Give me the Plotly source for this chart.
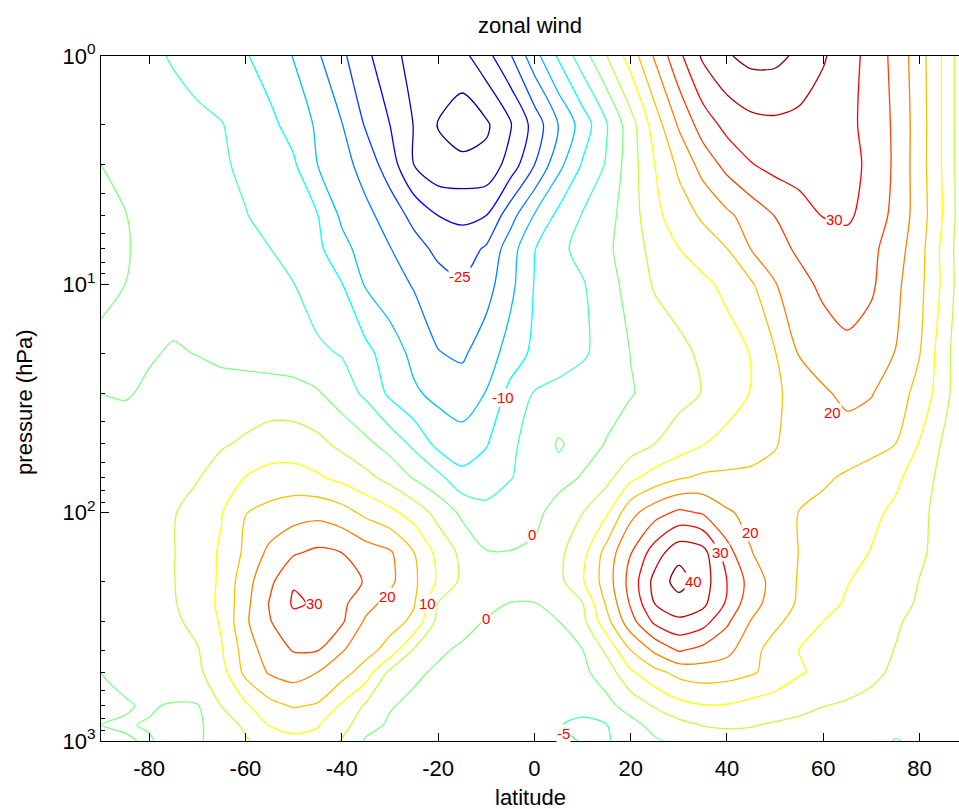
import numpy as np
import plotly.graph_objects as go

# latitude grid (deg) and pressure levels (hPa)
lats = [-90, -85, -80, -75, -70, -65, -60, -55, -50, -45, -40, -35, -30, -25, -20, -15, -10, -5, 0,
        5, 10, 15, 20, 25, 30, 35, 40, 45, 50, 55, 60, 65, 70, 75, 80, 85, 90]
pressures = [1, 2, 3, 5, 7, 10, 20, 30, 50, 70, 100, 150, 200, 250, 300, 400, 500, 700, 850, 1000]

# zonal wind (m/s), one list per pressure level
u_p1 = [0, -1.9, -3.8, -5.5, -7, -8.2, -9.6, -12.2, -15.2, -19.4, -24, -28.8, -33.6, -36.5, -38, -36.5, -31.7, -25.5, -16.9,
        -9.3, -2.2, 4.9, 12.3, 20.6, 28.8, 35.8, 39.5, 41.5, 41.3, 39, 35.5, 32.1, 28.2, 23.5, 17.1, 9.3, 0]
u_p2 = [0, -1, -1.9, -2.9, -3.9, -4.8, -6.75, -8.8, -11.8, -15.8, -19.8, -25.5, -30, -35.2, -40.2, -43, -40.8, -35.6, -28.1,
        -19.9, -12.8, -5.4, 2.9, 12.4, 20.6, 27.4, 31.5, 33.5, 34, 33.5, 32.5, 31.2, 28.4, 24.1, 17.4, 9.3, 0]
u_p3 = [0, -1, -2, -2.8, -3.6, -4.4, -5.9, -7.6, -9.3, -15, -18, -22.1, -27.5, -35, -38.5, -38.5, -38.5, -32.9, -25,
        -16.5, -9.5, -4.5, 2.7, 10, 16, 21.9, 26.5, 29.7, 31.5, 32.5, 32.5, 31.5, 29, 24.1, 17.3, 9.3, 0]
u_p5 = [0.5, 0.1, -0.9, -1.9, -2.9, -3.8, -4.8, -6.4, -8.1, -9.9, -15.9, -18.7, -22.1, -26.5, -30, -31, -30, -22, -14.7,
        -8.7, -4.7, -1.8, 2.6, 8.7, 12.5, 15.8, 19, 22.1, 25.1, 27.5, 30.2, 30.8, 28, 23.6, 17.6, 9.6, 0]
u_p7 = [0.5, 0.2, -0.7, -1.5, -2.4, -3.2, -4, -4.9, -6.8, -8.9, -13.4, -17.1, -19.8, -23, -26.2, -27.5, -24.3, -17.3, -10.2,
        -6.2, -3.5, -1, 2.6, 6.6, 9.9, 12.4, 14.9, 20.1, 23.3, 25.8, 27.5, 28, 26.2, 22.3, 16.9, 8.6, 0]
u_p10 = [0.1, 0, -0.7, -1.4, -2.1, -2.8, -3.5, -4.2, -4.9, -7.2, -9.8, -15.5, -17.9, -20.4, -23, -24.5, -22, -16.4, -9.8,
         -7.6, -5.4, -2.1, 1.9, 5.5, 7.2, 8.9, 11.2, 14.3, 19.7, 23.5, 26, 27, 25.8, 21.2, 16.4, 8.9, 0]
u_p20 = [-0.1, -0.3, -0.3, 0.3, -0.1, -1, -1.7, -2.4, -3.2, -4.2, -5.3, -8.6, -12.5, -16.3, -19.8, -20.8, -17.4, -13, -8.8,
         -7.3, -5.7, -3.1, 0.1, 2, 3.8, 5.8, 7.9, 10.2, 14.8, 20.3, 22.5, 24, 22.5, 19.9, 15.2, 7, 0]
u_p30 = [0, -0.3, 0.5, 1, 1.4, 1.8, 2.2, 2.3, 2.1, 0.5, -2.5, -6, -11, -14.3, -16.3, -17.6, -14.8, -8.4, -4.7,
         -3.6, -2.5, -1.4, -0.3, 1.5, 3.4, 5.2, 7.7, 10.2, 14, 17.3, 19.3, 21.2, 20.3, 17, 13.6, 6.8, 0]
u_p50 = [0.8, 1.8, 2.6, 3.2, 3.8, 4.5, 5.7, 7.2, 7.3, 6.3, 3.8, 1.2, -1.9, -6.1, -11.5, -13, -10.4, -5.7, -3.5,
         0.5, -1.6, 0.2, 2.6, 5, 7.4, 9.8, 11.5, 13, 14.7, 17, 17.8, 17.8, 16.7, 15, 9.7, 4.3, 0]
u_p70 = [0.6, 2, 3, 3.8, 4.7, 7.1, 10.1, 11.8, 12, 10.6, 8.6, 6.3, 3.3, -0.5, -3.7, -8.5, -7.1, -5.2, -3.4,
         -1.5, 0.3, 3.5, 8.7, 12, 14.4, 15.8, 16, 16, 16.2, 16.3, 15.8, 14.3, 12.8, 11, 7.7, 3.3, 0]
u_p100 = [0.5, 2.5, 3.8, 4.7, 6.8, 9.7, 14.9, 16.5, 17.8, 18.5, 17, 13.8, 11.3, 7.9, 3.4, -1, -3.8, -3, -1.2,
          1.8, 4.9, 9.3, 18.5, 23, 26, 24.5, 20.6, 18.7, 16.8, 14.9, 13.6, 12.3, 11, 9.1, 6.1, 3.3, 0]
u_p150 = [0.3, 2.5, 3.7, 4.8, 7.5, 10.6, 16, 21.2, 24.5, 26, 25, 22.5, 20.7, 15.1, 8.5, 3.8, 0.3, 0.2, 0.8,
          3.8, 8.3, 16.9, 24.8, 32.5, 38.5, 37, 27, 20.2, 17.5, 14.9, 13.2, 11.5, 9.8, 8, 5.8, 3.2, 0]
u_p200 = [0, 2, 3.4, 4.8, 7.5, 10.7, 18.1, 23.8, 29.6, 29, 27.8, 24.5, 21.1, 16, 9.3, 4, 2.3, 1.2, 1.3,
          3.5, 9.5, 17.4, 26.8, 36.6, 42, 37.5, 30, 23, 18, 14.6, 12.7, 10.2, 8.5, 6.6, 4.9, 2.9, 0]
u_p250 = [0, 1.5, 3, 4.5, 7.9, 10.8, 18.6, 25.3, 30.6, 29.4, 26.1, 21.8, 18.2, 15.4, 4.8, 3.2, 1.5, -0.1, -0.1,
          2.2, 4.8, 15.7, 25.6, 35, 38, 36.2, 29.3, 21.7, 18, 14.3, 11.7, 9.4, 7.8, 6.1, 4.6, 2.8, 0]
u_p300 = [0, 1.5, 2.8, 4, 6.5, 10.5, 19.2, 24.7, 28.5, 29, 25.7, 19.2, 17, 13.9, 3.5, 2, -0.4, -1, -1,
          -0.1, 3.5, 13.3, 23.1, 31, 34, 32, 25.8, 19.8, 16.1, 12.9, 10, 8.5, 7, 5.4, 4.1, 2.2, 0]
u_p400 = [0, 1, 2.2, 3.5, 4.6, 9.6, 17.2, 22.6, 25.3, 25.2, 20.4, 17, 13, 4.4, 0.9, -0.9, -1.8, -2.3, -2.4,
          -2, -0.1, 6, 15, 21, 25.5, 23.5, 21.5, 16.7, 12.9, 9.9, 8.7, 7.4, 6.1, 4.9, 3.5, 1.9, 0]
u_p500 = [0, 0.6, 1.8, 2.8, 4, 8.1, 16.3, 20.5, 22, 20, 17.1, 12.5, 3.9, 1, -0.8, -1.6, -2.3, -2.8, -3,
          -2.5, -1, 2.2, 9.2, 13.5, 16.5, 17.5, 17, 15.6, 13.4, 10.5, 8.8, 7.3, 5.9, 4.3, 3.1, 1.8, 0]
u_p700 = [0, -0.2, 0.3, -0.3, -0.3, 5.1, 9.2, 13.5, 15.5, 14.5, 9.3, 4.3, 0.4, -1.2, -1.8, -2.1, -2.4, -2.8, -3.3,
          -3.5, -3.8, -1.3, 1.9, 5.5, 8.5, 9.8, 9.7, 8.5, 7.5, 6.2, 5.1, 4.5, 3.8, 3.2, 2.5, 1.3, 0]
u_p850 = [0, 0.2, -0.2, -0.6, -0.5, 1.5, 6.3, 10.2, 11, 10.3, 7, 1.8, -0.7, -1.5, -2, -2.3, -2.8, -3.5, -4.2,
          -4.8, -5.8, -5.1, -1.5, 1.5, 3.5, 5.2, 5.6, 5.3, 4.5, 4, 3.6, 3.2, 2.5, 1.5, 1.5, 0.8, 0]
u_p1000 = [0, -0.2, 0.2, -0.8, -0.5, 1.5, 4.3, 7.5, 9.2, 8.8, 4.6, -0.6, -1.5, -2, -2.3, -2.5, -3, -3.5, -4,
           -4.3, -5.2, -5.3, -3.5, -0.6, 1.2, 2.4, 3, 3.3, 3.3, 3.2, 3, 2.6, 2, -0.3, 1, 0.5, 0]

u_rows = [u_p1, u_p2, u_p3, u_p5, u_p7, u_p10, u_p20, u_p30, u_p50, u_p70, u_p100, u_p150,
          u_p200, u_p250, u_p300, u_p400, u_p500, u_p700, u_p850, u_p1000]

# contour labels (text, latitude, pressure)
label_text = ["-25", "-10", "0", "0", "-5", "30", "20", "10", "40", "30", "20", "20", "30"]
label_lat = [-15.4, -6.5, -0.4, -10.0, 6.0, -45.6, -30.4, -22.1, 33.0, 38.6, 44.8, 62.0, 62.4]
label_p = [9.2, 31.2, 125, 292, 923, 249, 234, 249, 201, 150, 122, 36.6, 5.2]

x_ticks = [-80, -60, -40, -20, 0, 20, 40, 60, 80]
x_ticktext = ["-80", "-60", "-40", "-20", "0", "20", "40", "60", "80"]
y_ticks = [1, 10, 100, 1000]
y_ticktext = ["10<sup>0</sup>", "10<sup>1</sup>", "10<sup>2</sup>", "10<sup>3</sup>"]
y_minor = [2, 3, 4, 5, 6, 7, 8, 9, 20, 30, 40, 50, 60, 70, 80, 90, 200, 300, 400, 500, 600, 700, 800, 900]

jet = [[0.0, "rgb(0,0,128)"], [0.125, "rgb(0,0,255)"], [0.375, "rgb(0,255,255)"],
       [0.625, "rgb(255,255,0)"], [0.875, "rgb(255,0,0)"], [1.0, "rgb(128,0,0)"]]

FONT = "Liberation Sans, Arial, Helvetica, sans-serif"

fig = go.Figure()
fig.add_trace(go.Contour(
    x=lats, y=pressures, z=np.array(u_rows),
    autocontour=False,
    contours=dict(start=-40, end=40, size=5, coloring="lines", showlabels=False),
    colorscale=jet, zmin=-40, zmax=40, showscale=False,
    line=dict(width=1.3, smoothing=0.8),
    hoverinfo="skip",
))

for t, la, p in zip(label_text, label_lat, label_p):
    fig.add_annotation(x=la, y=np.log10(p), xref="x", yref="y", text=t, showarrow=False,
                       font=dict(family=FONT, size=15, color="#ff0000"),
                       bgcolor="white", borderpad=0)

fig.add_annotation(x=0.5, y=-0.0818, xref="paper", yref="paper", text="latitude", showarrow=False,
                   font=dict(family=FONT, size=22, color="black"), yanchor="middle")
fig.add_annotation(x=-0.0886, y=0.495, xref="paper", yref="paper", text="pressure (hPa)", showarrow=False,
                   textangle=-90, font=dict(family=FONT, size=22, color="black"), xanchor="center", yanchor="middle")

fig.update_layout(
    width=959, height=809,
    margin=dict(l=101, r=0, t=56, b=68),
    paper_bgcolor="white", plot_bgcolor="white",
    font=dict(family=FONT, size=22, color="black"),
    title=dict(text="zonal wind", x=0.5, xref="paper", y=1 - 25 / 809, yref="container",
               xanchor="center", yanchor="middle", font=dict(family=FONT, size=22, color="black")),
    showlegend=False,
)
fig.update_xaxes(range=[-90, 88.2], tickvals=x_ticks, ticktext=x_ticktext, ticks="inside", ticklen=8,
                 tickwidth=1, tickcolor="black", showline=True, linecolor="black", linewidth=1,
                 mirror="ticks", showgrid=False, zeroline=False, ticklabelstandoff=8,
                 tickfont=dict(family=FONT, size=22, color="black"))
fig.update_yaxes(type="log", range=[3, 0], tickvals=y_ticks, ticktext=y_ticktext, ticks="inside",
                 ticklen=8, tickwidth=1, tickcolor="black", showline=True, linecolor="black",
                 linewidth=1, mirror=False, showgrid=False, zeroline=False,
                 minor=dict(tickvals=y_minor, ticks="inside", ticklen=4, tickcolor="black", showgrid=False),
                 tickfont=dict(family=FONT, size=22, color="black"))

fig.write_html("out.html")
